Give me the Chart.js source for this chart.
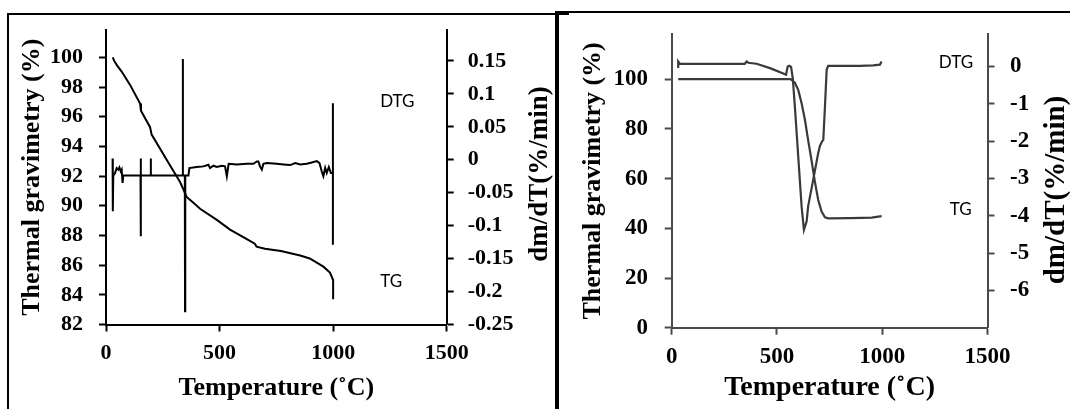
<!DOCTYPE html>
<html>
<head>
<meta charset="utf-8">
<script src="https://cdn.jsdelivr.net/npm/chart.js@4.4.1/dist/chart.umd.min.js"></script>
<style>
  html, body { margin: 0; padding: 0; background: #fff; }
  #page { position: relative; width: 1070px; height: 409px; overflow: hidden; background: #fff; }
  #frameA { position: absolute; left: 7px; top: 13px; width: 560px; height: 420px;
            border-left: 2px solid #000; border-top: 2px solid #000; }
  #topB { position: absolute; left: 557px; top: 11px; width: 513px; height: 2px; background: #000; }
  #wrapA { position: absolute; left: 0; top: 0; width: 556px; height: 409px; }
  #wrapB { position: absolute; left: 558px; top: 0; width: 512px; height: 409px; filter: blur(0.6px); }
  #divider { position: absolute; left: 555px; top: 11px; width: 4px; height: 400px; background: #000; }
  canvas { display: block; }
</style>
</head>
<body>
<div id="page">
  <div id="frameA"></div>
  <div id="topB"></div>
  <div id="wrapA"><canvas id="chartA" width="556" height="409"></canvas></div>
  <div id="wrapB"><canvas id="chartB" width="512" height="409"></canvas></div>
  <div id="divider"></div>
</div>
<script>
// ---------- shared axis values ----------
const tempTicks = [0, 500, 1000, 1500];

// ---------- panel A: sample with small, gradual mass loss ----------
const tgATicks  = [82, 84, 86, 88, 90, 92, 94, 96, 98, 100];
const dtgATicks = [-0.25, -0.2, -0.15, -0.1, -0.05, 0, 0.05, 0.1, 0.15];

const tgA_temp = [30, 35, 47, 69, 106, 150, 154, 194, 201, 267, 326, 341, 355, 385, 414, 488, 546, 620,
                  655, 663, 700, 770, 855, 897, 957, 986, 1000, 1000];
const tgA_mass = [100.0, 99.8, 99.5, 99.05, 98.15, 96.9, 96.4, 95.3, 94.8, 93.1, 91.6, 91.1, 90.6, 90.2, 89.8, 89.05, 88.4, 87.75,
                  87.45, 87.25, 87.1, 86.95, 86.65, 86.45, 85.9, 85.5, 85.0, 83.7];

const dtgA_temp = [29, 30, 32, 40, 47, 54, 59, 65, 69, 73, 76,
                   152, 153, 153, 154, 196, 197, 198,
                   337, 338, 339, 347, 348, 349, 363,
                   367, 399, 429, 451, 458, 473, 488, 510, 524, 532, 540, 576, 620, 649, 664, 671, 678, 686, 693,
                   708, 752, 781, 811, 833, 855, 884, 906, 928, 940, 950, 957, 965, 972, 981, 990, 999, 999, 999];
const dtgA_rate = [0.002, -0.078, -0.024, -0.020, -0.0126, -0.015, -0.0116, -0.0177, -0.015, -0.035, -0.024,
                   -0.024, 0.002, -0.116, -0.024, -0.024, 0.002, -0.024,
                   -0.024, 0.153, -0.024, -0.024, -0.230, -0.024, -0.024,
                   -0.0126, -0.011, -0.010, -0.0076, -0.0126, -0.009, -0.011, -0.009, -0.010, -0.025, -0.006, -0.007, -0.006, -0.006, -0.0025, -0.0025, -0.010, -0.015, -0.006,
                   -0.005, -0.006, -0.007, -0.008, -0.005, -0.007, -0.006, -0.004, -0.002, -0.005, -0.0177, -0.025, -0.012, -0.020, -0.011, -0.020, -0.020, 0.086, -0.129];

// ---------- panel B: sample with one sharp decomposition step ----------
const tgBTicks  = [0, 20, 40, 60, 80, 100];
const dtgBTicks = [-6, -5, -4, -3, -2, -1, 0];

const tgB_temp = [31, 565, 585, 601, 617, 633, 648, 664, 680, 696, 712, 728, 743, 850, 950, 997];
const tgB_mass = [100, 100, 98.6, 95.7, 90.3, 83.6, 75.5, 67.5, 58.8, 51.4, 46.7, 44.4, 44.0, 44.1, 44.3, 44.9];

const dtgB_temp = [31, 31, 39, 347, 356, 364, 403, 467, 530, 543, 551, 559, 567, 575, 585, 601, 617, 628,
                   641, 648, 672, 696, 704, 715, 720, 728, 736, 743, 893, 957, 989, 997];
const dtgB_rate = [-0.044, 0.134, 0.072, 0.072, 0.134, 0.10, 0.072, -0.044, -0.19, -0.22, 0.0, 0.018, -0.01, -0.31, -1.07, -2.41, -3.75, -4.38,
                   -4.15, -3.75, -3.04, -2.32, -2.13, -2.0, -1.97, -1.07, -0.09, 0.018, 0.018, 0.03, 0.05, 0.134];

// ---------- helpers ----------
const serif = "'Liberation Serif', 'Times New Roman', serif";
const toPoints = (xs, ys) => xs.map((x, i) => ({ x: x, y: ys[i] }));
const keepTicks = list => scale => { scale.ticks = list.map(v => ({ value: v })); };
const fixWidth = w => scale => { scale.width = w; };
const fixHeight = h => scale => { scale.height = h; };

// Curve names written inside the plot, anchored in data units
const curveNames = {
  id: 'curveNames',
  afterDatasetsDraw(chart, args, opts) {
    const ctx = chart.ctx;
    ctx.save();
    ctx.font = opts.font;
    ctx.fillStyle = opts.color;
    ctx.textAlign = 'left';
    ctx.textBaseline = 'middle';
    opts.items.forEach(it => {
      const x = chart.scales.x.getPixelForValue(it.x);
      const y = chart.scales[it.axis].getPixelForValue(it.y);
      ctx.fillText(it.text, x, y);
    });
    ctx.restore();
  }
};

// Right-hand axis title, read bottom-to-top like the left one
const sideTitle = {
  id: 'sideTitle',
  afterDraw(chart, args, opts) {
    const ctx = chart.ctx;
    ctx.save();
    ctx.font = opts.font;
    ctx.fillStyle = opts.color;
    ctx.textAlign = 'center';
    ctx.textBaseline = 'middle';
    ctx.translate(opts.x, opts.y);
    ctx.rotate(-Math.PI / 2);
    ctx.fillText(opts.text, 0, 0);
    ctx.restore();
  }
};

function axisStyle(color, tickFont) {
  return {
    grid: { drawOnChartArea: false, drawTicks: true, tickLength: 7, tickColor: color, tickWidth: 2 },
    border: { display: true, color: color, width: 2 },
    ticks: { color: '#000', font: tickFont, maxRotation: 0, autoSkip: false }
  };
}

function makeChart(id, cfg) {
  const tickFont = { family: serif, size: cfg.tickSize, weight: 'bold' };
  const xTitleFont = { family: serif, size: cfg.xTitleSize, weight: 'bold' };
  const yTitleFont = { family: serif, size: cfg.yTitleSize, weight: 'bold' };
  const ax = axisStyle(cfg.axisColor, tickFont);
  return new Chart(document.getElementById(id), {
    type: 'line',
    data: {
      datasets: [
        { label: 'TG', data: cfg.tg, yAxisID: 'y', borderColor: cfg.lineColor, borderWidth: cfg.lineWidth,
          pointRadius: 0, tension: 0, fill: false },
        { label: 'DTG', data: cfg.dtg, yAxisID: 'y1', borderColor: cfg.lineColor, borderWidth: cfg.lineWidth,
          pointRadius: 0, tension: 0, fill: false }
      ]
    },
    options: {
      responsive: false,
      animation: false,
      devicePixelRatio: 1,
      parsing: false,
      layout: { padding: { top: cfg.top, left: 0, right: 0, bottom: 0 } },
      plugins: {
        legend: { display: false },
        tooltip: { enabled: false },
        curveNames: { font: cfg.nameFont, color: '#000', items: cfg.names },
        sideTitle: { text: 'dm/dT(%/min)', font: 'bold ' + cfg.sideSize + "px " + serif, color: '#000',
                     x: cfg.sideX, y: cfg.sideY }
      },
      scales: {
        x: {
          type: 'linear', position: 'bottom', min: 0, max: 1500,
          afterBuildTicks: keepTicks(tempTicks),
          afterFit: fixHeight(cfg.xHeight),
          grid: ax.grid, border: ax.border,
          ticks: Object.assign({}, ax.ticks, { padding: cfg.xPad, callback: v => String(v) }),
          title: { display: true, text: 'Temperature (\u02DAC)', color: '#000', font: xTitleFont,
                   padding: { top: 0, bottom: cfg.xTitlePad } }
        },
        y: {
          type: 'linear', position: 'left', min: cfg.tgMin, max: cfg.tgMax,
          afterBuildTicks: keepTicks(cfg.tgTicks),
          afterFit: fixWidth(cfg.leftW),
          grid: ax.grid, border: ax.border,
          ticks: Object.assign({}, ax.ticks, { padding: cfg.leftPad, callback: v => String(v) }),
          title: { display: true, text: 'Thermal gravimetry (%)', color: '#000', font: yTitleFont,
                   padding: { top: cfg.leftTitlePad, bottom: 0 } }
        },
        y1: {
          type: 'linear', position: 'right', min: cfg.dtgMin, max: cfg.dtgMax,
          afterBuildTicks: keepTicks(cfg.dtgTicks),
          afterFit: fixWidth(cfg.rightW),
          grid: ax.grid, border: ax.border,
          ticks: Object.assign({}, ax.ticks, { padding: cfg.rightPad, callback: v => String(v) })
        }
      }
    },
    plugins: [curveNames, sideTitle]
  });
}

makeChart('chartA', {
  tg: toPoints(tgA_temp, tgA_mass),
  dtg: toPoints(dtgA_temp, dtgA_rate),
  tgTicks: tgATicks, dtgTicks: dtgATicks,
  tgMin: 82, tgMax: 101.85, dtgMin: -0.25, dtgMax: 0.197,
  top: 30, xHeight: 84.5, leftW: 106, rightW: 109.3,
  xPad: 9, leftPad: 16, rightPad: 14, leftTitlePad: 17, xTitlePad: 5,
  tickSize: 22, xTitleSize: 26, yTitleSize: 26, sideSize: 27, sideX: 540, sideY: 174,
  axisColor: '#000', lineColor: '#000', lineWidth: 2,
  nameFont: "17px Lato, 'Open Sans', sans-serif",
  names: [ { text: 'DTG', x: 1207, y: 97.0, axis: 'y' }, { text: 'TG', x: 1207, y: 84.9, axis: 'y' } ]
});

makeChart('chartB', {
  tg: toPoints(tgB_temp, tgB_mass),
  dtg: toPoints(dtgB_temp, dtgB_rate),
  tgTicks: tgBTicks, dtgTicks: dtgBTicks,
  tgMin: 0, tgMax: 118.2, dtgMin: -7, dtgMax: 0.87,
  top: 34, xHeight: 81.3, leftW: 113.7, rightW: 82.5,
  xPad: 9, leftPad: 16.7, rightPad: 15.5, leftTitlePad: 20, xTitlePad: 4,
  tickSize: 23, xTitleSize: 28, yTitleSize: 26, sideSize: 29, sideX: 499, sideY: 190,
  axisColor: '#4a4a4a', lineColor: '#3a3a3a', lineWidth: 2.2,
  nameFont: "17px Lato, 'Open Sans', sans-serif",
  names: [ { text: 'DTG', x: 1269, y: 106.9, axis: 'y' }, { text: 'TG', x: 1321, y: 47.4, axis: 'y' } ]
});
</script>
</body>
</html>
